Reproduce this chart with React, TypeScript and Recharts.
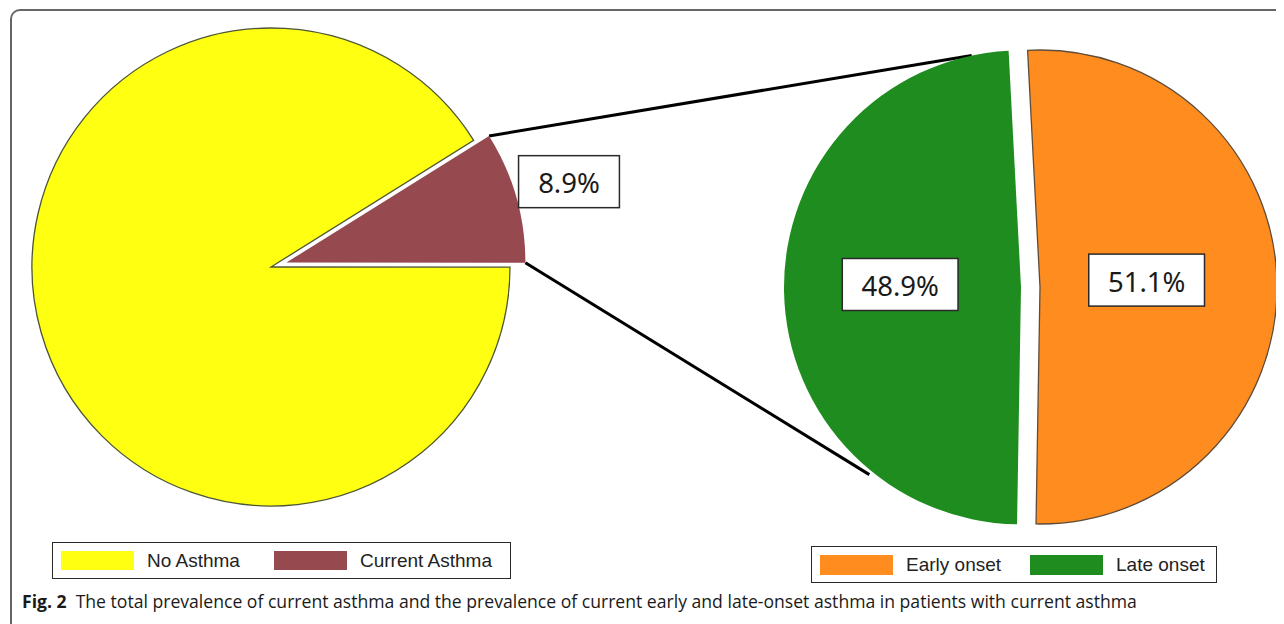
import React from 'react'
import { Cell, Customized, Pie, PieChart } from 'recharts'

// overall prevalence (left pie)
const totalNames = ['No Asthma', 'Current Asthma']
const totalValues = [91.1, 8.9]
const totalColors = ['#ffff12', '#964a50']

// onset among current asthma (right pie)
const onsetNames = ['Early onset', 'Late onset']
const onsetValues = [51.1, 48.9]
const onsetColors = ['#ff8c1e', '#1e8c1e']

const captionTitle = 'Fig. 2'
const captionText =
  'The total prevalence of current asthma and the prevalence of current early and late-onset asthma in patients with current asthma'

const totalData = totalNames.map((name, i) => ({ name, value: totalValues[i] }))
const onsetData = onsetNames.map((name, i) => ({ name, value: onsetValues[i] }))

const W = 1276
const H = 590
const RAD = Math.PI / 180

const left = { cx: 263, cy: 259, r: 239, start: 32, dir: 1, explode: 1, push: 16, lift: 0 }
const right = { cx: 1032, cy: 279, r: 237, start: 93, dir: -1, explode: 1, push: 19, lift: 5 }

const labelReach: Record<string, number> = {
  'Current Asthma': 1.23,
  'Early onset': 0.45,
  'Late onset': 0.51,
}

function sliceAngles(values: number[], start: number, dir: number) {
  const sum = values.reduce((a, b) => a + b, 0)
  let a = start
  return values.map((v) => {
    const a0 = a
    a += (dir * 360 * v) / sum
    return [a0, a]
  })
}

function polar(cx: number, cy: number, r: number, deg: number) {
  return { x: cx + r * Math.cos(-deg * RAD), y: cy + r * Math.sin(-deg * RAD) }
}

function explodedCenter(cfg: typeof left, values: number[]) {
  const [a0, a1] = sliceAngles(values, cfg.start, cfg.dir)[cfg.explode]
  return polar(cfg.cx, cfg.cy, cfg.push, (a0 + a1) / 2)
}

const leftBurst = explodedCenter(left, totalValues)
const rightBurst = explodedCenter(right, onsetValues)

function textWidth(s: string, size: number) {
  let w = 0
  for (const ch of s) w += ch === '.' ? 0.27 : ch === '%' ? 0.85 : 0.572
  return w * size
}

function makeLabel(visibleIndex: number, lift: number) {
  return (props: any) => {
    const { cx, cy, midAngle, outerRadius, index, name, value } = props
    const reach = labelReach[name]
    if (index !== visibleIndex || reach === undefined) return null
    const p = polar(cx, cy, outerRadius * reach, midAngle)
    const y = p.y - lift
    const text = `${Number(value).toFixed(1)}%`
    const bw = textWidth(text, 26) + 42
    const bh = 52
    return (
      <g>
        <rect
          x={p.x - bw / 2}
          y={y - bh / 2}
          width={bw}
          height={bh}
          fill="#fff"
          stroke="#2a2a2a"
          strokeWidth={1.5}
        />
        <text
          x={p.x}
          y={y + 1}
          textAnchor="middle"
          dominantBaseline="central"
          fontFamily="'Noto Sans', sans-serif"
          fontSize={27.5}
          fill="#1a1a1a"
        >
          {text}
        </text>
      </g>
    )
  }
}

// the two connector lines from the small slice to the exploded onset slice
function Connectors() {
  const [c0, c1] = sliceAngles(totalValues, left.start, left.dir)[left.explode]
  const a = polar(leftBurst.x, leftBurst.y, left.r, c1)
  const b = polar(leftBurst.x, leftBurst.y, left.r, c0)
  const c = polar(rightBurst.x, rightBurst.y, right.r, 102)
  const d = polar(rightBurst.x, rightBurst.y, right.r + 4, 231)
  return (
    <g stroke="#000" strokeWidth={3}>
      <line x1={a.x} y1={a.y} x2={c.x} y2={c.y} />
      <line x1={b.x} y1={b.y} x2={d.x} y2={d.y} />
    </g>
  )
}

function LegendBox({
  names,
  colors,
  x,
  y,
  w,
  h,
  step,
  swatchH,
}: {
  names: string[]
  colors: string[]
  x: number
  y: number
  w: number
  h: number
  step: number
  swatchH: number
}) {
  return (
    <div
      style={{
        position: 'absolute',
        left: x,
        top: y,
        width: w,
        height: h,
        boxSizing: 'border-box',
        border: '1.5px solid #2a2a2a',
        background: '#fff',
        display: 'flex',
        alignItems: 'center',
        paddingLeft: 8,
        overflow: 'hidden',
        fontFamily: "'Liberation Sans', Arial, sans-serif",
        fontSize: 19,
        color: '#222',
      }}
    >
      {names.map((n, i) => (
        <div key={n} style={{ display: 'flex', alignItems: 'center', width: step, flexShrink: 0 }}>
          <div style={{ width: 73, height: swatchH, background: colors[i], flexShrink: 0 }} />
          <span style={{ marginLeft: 13, whiteSpace: 'nowrap' }}>{n}</span>
        </div>
      ))}
    </div>
  )
}

export default function App() {
  return (
    <div style={{ position: 'relative', width: W, height: 616, overflow: 'hidden', background: '#fff' }}>
      <div
        style={{
          position: 'absolute',
          left: 2,
          top: 1,
          width: W + 20,
          height: 640,
          borderTop: '2px solid #666',
          borderLeft: '2px solid #666',
          borderTopLeftRadius: 10,
          boxSizing: 'border-box',
        }}
      />
      <div style={{ position: 'absolute', left: 0, top: 0 }}>
        <PieChart width={W} height={H} margin={{ top: 0, right: 0, bottom: 0, left: 0 }}>
          <Customized component={Connectors} />
          <Pie
            data={totalData}
            dataKey="value"
            nameKey="name"
            cx={left.cx}
            cy={left.cy}
            outerRadius={left.r}
            startAngle={left.start}
            endAngle={left.start + left.dir * 360}
            isAnimationActive={false}
            labelLine={false}
          >
            {totalData.map((d, i) => (
              <Cell
                key={d.name}
                fill={i === left.explode ? 'none' : totalColors[i]}
                stroke={i === left.explode ? 'none' : '#4d5634'}
                strokeWidth={1.3}
              />
            ))}
          </Pie>
          <Pie
            data={totalData}
            dataKey="value"
            nameKey="name"
            cx={leftBurst.x}
            cy={leftBurst.y}
            outerRadius={left.r}
            startAngle={left.start}
            endAngle={left.start + left.dir * 360}
            isAnimationActive={false}
            labelLine={false}
            label={makeLabel(left.explode, left.lift)}
          >
            {totalData.map((d, i) => (
              <Cell key={d.name} fill={i === left.explode ? totalColors[i] : 'none'} stroke="none" />
            ))}
          </Pie>
          <Pie
            data={onsetData}
            dataKey="value"
            nameKey="name"
            cx={right.cx}
            cy={right.cy}
            outerRadius={right.r}
            startAngle={right.start}
            endAngle={right.start + right.dir * 360}
            isAnimationActive={false}
            labelLine={false}
            label={makeLabel(0, right.lift)}
          >
            {onsetData.map((d, i) => (
              <Cell
                key={d.name}
                fill={i === right.explode ? 'none' : onsetColors[i]}
                stroke={i === right.explode ? 'none' : '#5e4c3a'}
                strokeWidth={1.3}
              />
            ))}
          </Pie>
          <Pie
            data={onsetData}
            dataKey="value"
            nameKey="name"
            cx={rightBurst.x}
            cy={rightBurst.y}
            outerRadius={right.r}
            startAngle={right.start}
            endAngle={right.start + right.dir * 360}
            isAnimationActive={false}
            labelLine={false}
            label={makeLabel(right.explode, right.lift)}
          >
            {onsetData.map((d, i) => (
              <Cell key={d.name} fill={i === right.explode ? onsetColors[i] : 'none'} stroke="none" />
            ))}
          </Pie>
        </PieChart>
      </div>
      <LegendBox names={totalNames} colors={totalColors} x={44} y={534} w={459} h={37} step={213} swatchH={19} />
      <LegendBox names={onsetNames} colors={onsetColors} x={803} y={538} w={406} h={37} step={210} swatchH={20} />
      <div
        style={{
          position: 'absolute',
          left: 14,
          top: 582,
          fontFamily: "'Open Sans', 'Noto Sans', sans-serif",
          fontSize: 17.6,
          lineHeight: '22px',
          color: '#1a1a1a',
          whiteSpace: 'nowrap',
        }}
      >
        <b>{captionTitle}</b>
        <span style={{ marginLeft: 9 }}>{captionText}</span>
      </div>
    </div>
  )
}
